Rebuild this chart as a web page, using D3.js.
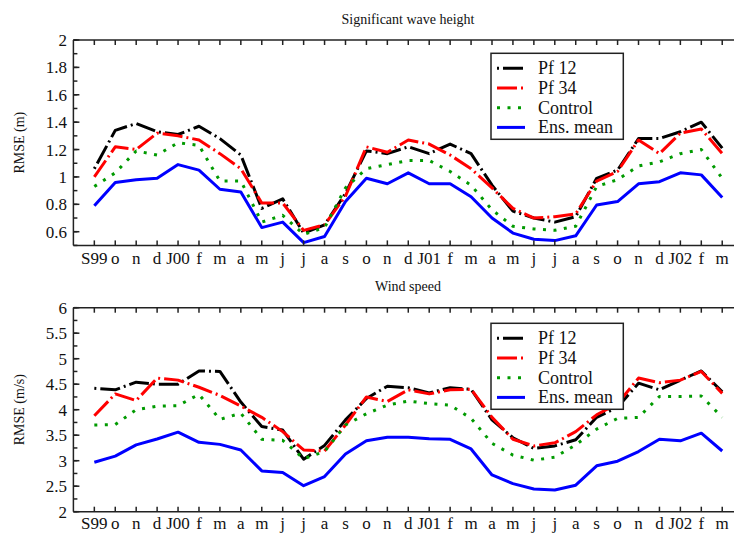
<!DOCTYPE html>
<html>
<head>
<meta charset="utf-8">
<script src="https://cdn.jsdelivr.net/npm/d3@7"></script>
<style>
  html, body { margin: 0; padding: 0; background: #fff; }
  svg { display: block; }
  svg text { font-family: "Liberation Serif", "Tinos", "Times New Roman", "DejaVu Serif", "Noto Serif", serif; }
</style>
</head>
<body>
<svg id="chart" width="734" height="533"></svg>
<script>
// Monthly tick labels, Sep 1999 .. Mar 2002
const months = ["S99","o","n","d","J00","f","m","a","m","j","j","a","s","o","n","d",
                "J01","f","m","a","m","j","j","a","s","o","n","d","J02","f","m"];

const seriesNames = ["Pf 12", "Pf 34", "Control", "Ens. mean"];

// Significant wave height RMSE (m)
const hsPf12   = [1.06,1.34,1.39,1.33,1.31,1.37,1.28,1.16,0.77,0.84,0.59,0.65,0.88,1.19,1.17,1.22,
                  1.17,1.24,1.17,0.94,0.75,0.70,0.67,0.71,0.99,1.05,1.28,1.28,1.33,1.40,1.21];
const hsPf34   = [1.00,1.22,1.20,1.32,1.30,1.27,1.17,1.06,0.81,0.81,0.61,0.65,0.86,1.22,1.18,1.27,
                  1.24,1.16,1.06,0.92,0.77,0.70,0.71,0.73,0.97,1.04,1.27,1.17,1.32,1.35,1.17];
const hsCtrl   = [0.93,1.03,1.19,1.16,1.25,1.23,0.97,0.97,0.67,0.72,0.58,0.63,0.92,1.06,1.09,1.12,
                  1.12,1.04,0.94,0.76,0.64,0.62,0.61,0.64,0.93,0.98,1.08,1.11,1.17,1.20,0.99];
const hsEns    = [0.79,0.96,0.98,0.99,1.09,1.05,0.91,0.89,0.63,0.67,0.52,0.565,0.82,0.99,0.95,1.03,
                  0.95,0.95,0.855,0.70,0.59,0.545,0.535,0.57,0.795,0.82,0.95,0.965,1.03,1.015,0.85];

// Wind speed RMSE (m/s)
const wsPf12   = [4.42,4.39,4.54,4.50,4.50,4.76,4.75,4.15,3.67,3.60,3.03,3.30,3.80,4.22,4.46,4.43,
                  4.33,4.43,4.40,3.80,3.45,3.24,3.29,3.41,3.85,4.05,4.52,4.39,4.58,4.76,4.35];
const wsPf34   = [3.88,4.31,4.18,4.62,4.58,4.44,4.28,4.07,3.85,3.57,3.21,3.19,3.70,4.25,4.16,4.39,
                  4.31,4.39,4.40,3.85,3.42,3.29,3.35,3.57,3.90,4.12,4.62,4.53,4.58,4.75,4.32];
const wsCtrl   = [3.70,3.71,4.00,4.07,4.08,4.30,3.81,3.93,3.42,3.40,3.04,3.18,3.70,3.92,4.09,4.17,
                  4.12,4.09,3.83,3.34,3.11,3.01,3.07,3.31,3.62,3.83,3.85,4.26,4.26,4.27,3.85];
const wsEns    = [2.97,3.09,3.31,3.425,3.56,3.36,3.32,3.21,2.80,2.77,2.51,2.69,3.13,3.39,3.46,3.46,
                  3.43,3.42,3.23,2.72,2.55,2.445,2.425,2.52,2.90,2.99,3.18,3.42,3.39,3.54,3.19];

// Y-axis ticks
const hsTickLabels = [0.6,0.8,1,1.2,1.4,1.6,1.8,2];
const wsTickLabels = [2,2.5,3,3.5,4,4.5,5,5.5,6];

// Line styles, one per series
const styles = [
  { color: "#000000", dash: "2,4,20,4" },
  { color: "#ff0000", dash: "20,4,2,4" },
  { color: "#009a00", dash: "3,7.5" },
  { color: "#0000ff", dash: null }
];

const svg = d3.select("#chart");
const W = 734;
const frameColor = "#222";

const x = d3.scaleLinear().domain([-1, 32]).range([73.4, 73.4 + 33 * 20.93]);

function panel(cfg) {
  const g = svg.append("g");
  const y = d3.scaleLinear().domain(cfg.domain).range([cfg.bottom, cfg.top]);

  // title
  g.append("text").attr("x", 408).attr("y", cfg.titleY)
    .attr("text-anchor", "middle").attr("font-size", 14).attr("fill", "#111")
    .text(cfg.title);

  // y label
  g.append("text")
    .attr("transform", `translate(23.5,${(cfg.top + cfg.bottom) / 2}) rotate(-90)`)
    .attr("text-anchor", "middle").attr("font-size", 14).attr("fill", "#111")
    .text(cfg.ylabel);

  // series
  const line = d3.line().x((d, i) => x(i)).y(d => y(d));
  cfg.series.forEach((vals, k) => {
    g.append("path").datum(vals)
      .attr("d", line)
      .attr("fill", "none")
      .attr("stroke", styles[k].color)
      .attr("stroke-width", 3)
      .attr("stroke-linejoin", "round")
      .attr("stroke-dasharray", styles[k].dash);
  });

  // frame: top, bottom, left
  const xl = x(-1);
  g.append("line").attr("x1", xl).attr("x2", W).attr("y1", cfg.top).attr("y2", cfg.top)
    .attr("stroke", frameColor).attr("stroke-width", 1.5);
  g.append("line").attr("x1", xl).attr("x2", W).attr("y1", cfg.bottom).attr("y2", cfg.bottom)
    .attr("stroke", frameColor).attr("stroke-width", 1.5);
  g.append("line").attr("x1", xl).attr("x2", xl).attr("y1", cfg.top).attr("y2", cfg.bottom)
    .attr("stroke", frameColor).attr("stroke-width", 1.5);

  // x ticks (inward, top and bottom)
  const xt = d3.range(0, 32);
  g.selectAll(null).data(xt).join("line")
    .attr("x1", d => x(d)).attr("x2", d => x(d))
    .attr("y1", cfg.bottom).attr("y2", cfg.bottom - 5)
    .attr("stroke", frameColor).attr("stroke-width", 1.5);
  g.selectAll(null).data(xt).join("line")
    .attr("x1", d => x(d)).attr("x2", d => x(d))
    .attr("y1", cfg.top).attr("y2", cfg.top + 5)
    .attr("stroke", frameColor).attr("stroke-width", 1.5);

  // x tick labels
  g.selectAll(null).data(months).join("text")
    .attr("x", (d, i) => x(i)).attr("y", cfg.bottom + cfg.labelOff)
    .attr("text-anchor", "middle").attr("font-size", 17).attr("fill", "#111")
    .text(d => d);

  // y ticks: minor + major, inward
  const minor = d3.range(cfg.domain[0], cfg.domain[1] + 1e-9, cfg.minorStep);
  g.selectAll(null).data(minor).join("line")
    .attr("x1", xl).attr("x2", xl + 4)
    .attr("y1", d => y(d)).attr("y2", d => y(d))
    .attr("stroke", frameColor).attr("stroke-width", 1.5);
  g.selectAll(null).data(cfg.ticks).join("line")
    .attr("x1", xl).attr("x2", xl + 6)
    .attr("y1", d => y(d)).attr("y2", d => y(d))
    .attr("stroke", frameColor).attr("stroke-width", 1.5);
  g.selectAll(null).data(cfg.ticks).join("text")
    .attr("x", xl - 6.5).attr("y", d => y(d) + 6)
    .attr("text-anchor", "end").attr("font-size", 17).attr("fill", "#111")
    .text(d => d);

  // legend
  const lg = g.append("g").attr("transform", `translate(491,${cfg.legendTop})`);
  lg.append("rect").attr("width", 132.3).attr("height", 86)
    .attr("fill", "#fff").attr("stroke", frameColor).attr("stroke-width", 1.5);
  seriesNames.forEach((name, k) => {
    const ry = 15 + k * 19.7;
    lg.append("line").attr("x1", 6).attr("x2", 34).attr("y1", ry).attr("y2", ry)
      .attr("stroke", styles[k].color).attr("stroke-width", 3)
      .attr("stroke-dasharray", styles[k].dash);
    lg.append("text").attr("x", 47).attr("y", ry + 6)
      .attr("font-size", 18).attr("fill", "#111").text(name);
  });
}

panel({
  title: "Significant wave height", titleY: 24,
  ylabel: "RMSE (m)",
  top: 40, bottom: 245.4, domain: [0.5, 2], minorStep: 0.1,
  ticks: hsTickLabels, labelOff: 18.5, legendTop: 53.3,
  series: [hsPf12, hsPf34, hsCtrl, hsEns]
});

panel({
  title: "Wind speed", titleY: 291,
  ylabel: "RMSE (m/s)",
  top: 307.7, bottom: 511.7, domain: [2, 6], minorStep: 0.25,
  ticks: wsTickLabels, labelOff: 17.3, legendTop: 323.3,
  series: [wsPf12, wsPf34, wsCtrl, wsEns]
});
</script>
</body>
</html>
